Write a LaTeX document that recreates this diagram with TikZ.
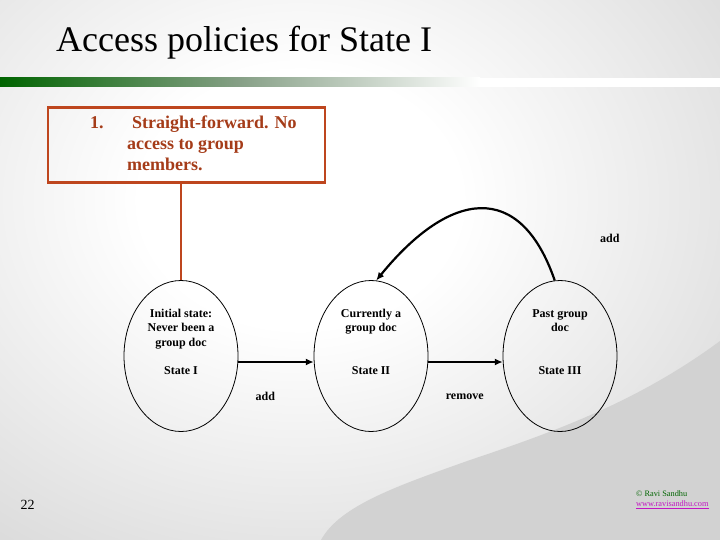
\documentclass[tikz,border=0pt]{standalone}
\usepackage{fontspec}
\setmainfont{Liberation Serif}
\usetikzlibrary{shapes.geometric,arrows.meta,positioning}

\definecolor{bggray}{RGB}{200,200,200}
\definecolor{swooshgray}{RGB}{210,210,210}
\definecolor{bargreen}{RGB}{0,100,0}
\definecolor{barmid}{RGB}{135,160,135}
\definecolor{boxred}{RGB}{190,70,30}
\definecolor{boxtextred}{RGB}{165,60,25}
\definecolor{copygreen}{RGB}{0,100,0}
\definecolor{linkpink}{RGB}{195,20,195}

\pgfdeclareradialshading{slidebg}{\pgfpoint{0bp}{0bp}}{color(0bp)=(white); color(8bp)=(white); color(36bp)=(bggray); color(50bp)=(bggray)}

\tikzset{
  stateoval/.style={draw, ellipse, line width=0.8pt, minimum width=114pt, minimum height=151pt, inner sep=0pt},
  statetext/.style={font=\bfseries\fontsize{12}{14.3}\selectfont, align=center, inner sep=0pt},
  boxtext/.style={text=boxtextred, font=\bfseries\fontsize{18}{21.3}\selectfont, inner sep=0pt},
  policybox/.style={draw=boxred, line width=2.5pt, minimum width=277pt, minimum height=75pt, inner sep=0pt},
  transarrow/.style={line width=2.2pt, -{Latex[length=8pt,width=7pt]}}
}

\begin{document}
\begin{tikzpicture}[x=1pt, y=-1pt]
            \useasboundingbox (0,0) rectangle (720,540);
            % Background
            \begin{scope}
              \clip (0,0) rectangle (720,540);
              \shade[shading=slidebg] (-200,-200) rectangle (800,600);
              \fill[swooshgray] (720,341) .. controls (640,400) and (560,430) .. (470,460)
                .. controls (400,485) and (340,505) .. (321,540) -- (720,540) -- cycle;
            \end{scope}
            \shade[left color=bargreen, right color=white, middle color=barmid] (0,78) rectangle (480,87);
            \fill[white] (480,78) rectangle (720,87);

            % Title
            \node[anchor=base west, font=\fontsize{36}{40}\selectfont, inner sep=0pt] (title) at (56,52) {Access policies for State I};

            % Define nodes
            \node[policybox] (box) at (186.5,145) {};
            \node[boxtext, anchor=base west] (itemnum) at (90,128.5) {1.};
            \node[boxtext, anchor=base west] (itemline1) at (132,128.5) {Straight-forward. No};
            \node[boxtext, anchor=base west] (itemline2) at (127,150) {access to group};
            \node[boxtext, anchor=base west] (itemline3) at (127,171) {members.};

            \node[stateoval] (s1) at (181,356) {};
            \node[stateoval] (s2) at (371,356) {};
            \node[stateoval] (s3) at (560,356) {};

            \node[statetext, anchor=north] (s1desc) at (181,309) {Initial state:\\Never been a\\group doc};
            \node[statetext, anchor=north] (s2desc) at (371,309) {Currently a\\group doc};
            \node[statetext, anchor=north] (s3desc) at (560,309) {Past group\\doc};
            \node[statetext] (s1name) at (181,371) {State I};
            \node[statetext] (s2name) at (371,371) {State II};
            \node[statetext] (s3name) at (560,371) {State III};

            % Draw edges
            \draw[boxred, line width=2.5pt] (box.south -| s1.north) -- (s1.north);
            \draw[transarrow] (s1.-6) -- (s2.186);
            \draw[transarrow] (s2.-6) -- (s3.186);
            \draw[transarrow] (s3.94) .. controls (520,180) and (450,190) .. (s2.86);

            % Add labels
            \node[statetext] (addlabel) at (265.4,396.8) {add};
            \node[statetext] (removelabel) at (464.7,397) {remove};
            \node[statetext] (readdlabel) at (609.8,238.7) {add};

            \node[font=\fontsize{14}{16}\selectfont, inner sep=0pt] (pagenum) at (27.6,504.5) {22};
            \node[anchor=west, text=copygreen, font=\fontsize{8.3}{9}\selectfont, inner sep=0pt] (copyright) at (636,494) {© Ravi Sandhu};
            \node[anchor=west, text=linkpink, font=\fontsize{8.3}{9}\selectfont, inner sep=0pt] (weblink) at (636,505) {\underline{www.ravisandhu.com}};
        \end{tikzpicture}
\end{document}
